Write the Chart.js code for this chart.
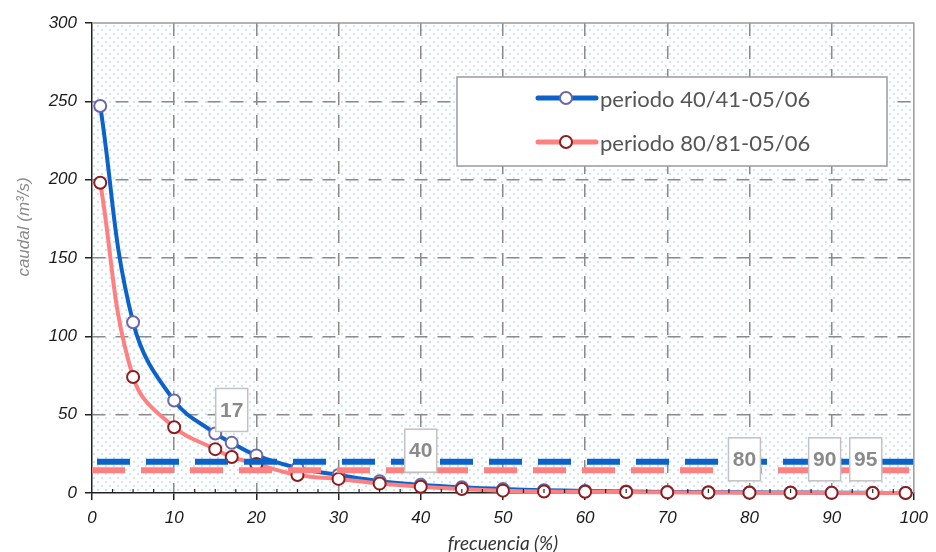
<!DOCTYPE html>
<html>
<head>
<meta charset="utf-8">
<script src="https://cdn.jsdelivr.net/npm/chart.js@4.4.1/dist/chart.umd.min.js"></script>
<style>
  html, body { margin: 0; padding: 0; background: #fff; }
  #wrap { width: 936px; height: 552px; }
</style>
</head>
<body>
<div id="wrap"><canvas id="chart" width="936" height="552"></canvas></div>
<script>
// flow duration curves: frequency (%) vs flow (m3/s)
const freq = [1, 5, 10, 15, 17, 20, 25, 30, 35, 40, 45, 50, 55, 60, 65, 70, 75, 80, 85, 90, 95, 99];
const flow4041 = [247, 109, 59, 38, 32, 24, 16, 11.5, 7.5, 5.2, 3.6, 2.5, 1.8, 1.3, 1.0, 0.7, 0.5, 0.4, 0.3, 0.2, 0.1, 0.05];
const flow8081 = [198, 74, 42, 28, 23, 18.5, 11.5, 9, 6, 4, 2.5, 1.5, 1, 0.8, 0.6, 0.4, 0.3, 0.2, 0.15, 0.1, 0.05, 0];
const seriesNames = ["periodo 40/41-05/06", "periodo 80/81-05/06"];

// reference flow level of each period (dashed lines)
const refLevel = [20, 14.5];

// frequencies flagged with a boxed label, and the flow height of each box
const markedFreq = [17, 40, 80, 90, 95];
const markedLevel = [53, 27, 21.5, 21.5, 21.5];

const BLUE = "#0b63c9";
const BLUE_PT = "#6b68a8";
const RED = "#ff8080";
const RED_PT = "#8c1d1d";

function toPoints(xs, ys) {
  return xs.map((x, i) => ({ x: x, y: ys[i] }));
}

function dotPattern(ctx) {
  const tile = document.createElement("canvas");
  tile.width = 8;
  tile.height = 8;
  const t = tile.getContext("2d");
  t.fillStyle = "#ffffff";
  t.fillRect(0, 0, 8, 8);
  t.fillStyle = "rgba(150,196,242,0.45)";
  t.fillRect(1, 1, 2, 2);
  t.fillRect(5, 5, 2, 2);
  return ctx.createPattern(tile, "repeat");
}

const plotDecor = {
  id: "plotDecor",
  beforeDraw(chart) {
    const { ctx, chartArea: a } = chart;
    ctx.save();
    ctx.fillStyle = dotPattern(ctx);
    ctx.fillRect(a.left, a.top, a.right - a.left, a.bottom - a.top);
    ctx.restore();
  },
  afterDatasetsDraw(chart) {
    const { ctx, chartArea: a } = chart;
    const xs = chart.scales.x;
    const ys = chart.scales.y;
    ctx.save();

    // frame on top and right
    ctx.strokeStyle = "#9a9a9a";
    ctx.lineWidth = 1.5;
    ctx.beginPath();
    ctx.moveTo(a.left, a.top);
    ctx.lineTo(a.right, a.top);
    ctx.lineTo(a.right, a.bottom);
    ctx.stroke();

    // minor ticks on the x axis every 2.5
    ctx.strokeStyle = "#222";
    ctx.lineWidth = 1.2;
    ctx.beginPath();
    for (let v = 2.5; v < 100; v += 2.5) {
      if (v % 10 === 0) continue;
      const px = xs.getPixelForValue(v);
      ctx.moveTo(px, a.bottom);
      ctx.lineTo(px, a.bottom - 4);
    }
    ctx.stroke();

    // boxed frequency labels
    const nudge = [0, 0, -5, -7, -7];
    ctx.font = "bold 21px 'Liberation Sans', Arial, sans-serif";
    ctx.textAlign = "center";
    ctx.textBaseline = "middle";
    markedFreq.forEach((f, i) => {
      const cx = xs.getPixelForValue(f) + nudge[i];
      const cy = ys.getPixelForValue(markedLevel[i]);
      const w = 32, h = 43;
      ctx.fillStyle = "#ffffff";
      ctx.fillRect(cx - w / 2, cy - h / 2, w, h);
      ctx.strokeStyle = "#c2c2c2";
      ctx.lineWidth = 1.5;
      ctx.strokeRect(cx - w / 2, cy - h / 2, w, h);
      ctx.fillStyle = "#8a8a8a";
      ctx.fillText(String(f), cx, cy + 1);
    });

    // legend box
    const lx = 457, ly = 77, lw = 430, lh = 89;
    ctx.fillStyle = "#ffffff";
    ctx.fillRect(lx, ly, lw, lh);
    ctx.strokeStyle = "#9a9a9a";
    ctx.lineWidth = 1.5;
    ctx.strokeRect(lx, ly, lw, lh);
    const rows = [
      { name: seriesNames[0], line: BLUE, pt: BLUE_PT, y: 98 },
      { name: seriesNames[1], line: RED, pt: RED_PT, y: 142 },
    ];
    ctx.font = "22px Lato, 'Noto Sans', sans-serif";
    ctx.textAlign = "left";
    ctx.textBaseline = "middle";
    rows.forEach((r) => {
      ctx.strokeStyle = r.line;
      ctx.lineWidth = 5;
      ctx.lineCap = "round";
      ctx.beginPath();
      ctx.moveTo(538, r.y);
      ctx.lineTo(596, r.y);
      ctx.stroke();
      ctx.lineCap = "butt";
      ctx.beginPath();
      ctx.arc(566, r.y, 6, 0, Math.PI * 2);
      ctx.fillStyle = "#ffffff";
      ctx.fill();
      ctx.strokeStyle = r.pt;
      ctx.lineWidth = 2;
      ctx.stroke();
      ctx.fillStyle = "#555555";
      ctx.fillText(r.name, 600, r.y + 2);
    });

    // axis titles
    ctx.fillStyle = "#333";
    ctx.textAlign = "center";
    ctx.textBaseline = "alphabetic";
    ctx.font = "italic 19px Lato, 'Noto Sans', sans-serif";
    ctx.fillText("frecuencia (%)", (a.left + a.right) / 2, 550);

    ctx.translate(24, 227);
    ctx.rotate(-Math.PI / 2);
    ctx.fillStyle = "#8a8a8a";
    ctx.font = "italic 17px 'Liberation Sans', Arial, sans-serif";
    ctx.textBaseline = "middle";
    ctx.fillText("caudal (m³/s)", 0, 0);
    ctx.restore();
  },
};

const tickFont = { family: "'Liberation Sans', Arial, sans-serif", size: 17, style: "italic" };

new Chart(document.getElementById("chart"), {
  type: "line",
  data: {
    datasets: [
      {
        label: "nivel 40/41",
        data: [{ x: 0, y: refLevel[0] }, { x: 100, y: refLevel[0] }],
        borderColor: BLUE,
        borderWidth: 6,
        borderDash: [33, 16],
        borderDashOffset: 44,
        pointRadius: 0,
        order: 0,
      },
      {
        label: "nivel 80/81",
        data: [{ x: 0, y: refLevel[1] }, { x: 100, y: refLevel[1] }],
        borderColor: RED,
        borderWidth: 6,
        borderDash: [33, 16],
        pointRadius: 0,
        order: 0,
      },
      {
        label: seriesNames[1],
        data: toPoints(freq, flow8081),
        borderColor: RED,
        borderWidth: 4,
        tension: 0.4,
        pointRadius: 6,
        pointBackgroundColor: "#ffffff",
        pointBorderColor: RED_PT,
        pointBorderWidth: 2,
        order: 1,
      },
      {
        label: seriesNames[0],
        data: toPoints(freq, flow4041),
        borderColor: BLUE,
        borderWidth: 4,
        tension: 0.4,
        pointRadius: 6,
        pointBackgroundColor: "#ffffff",
        pointBorderColor: BLUE_PT,
        pointBorderWidth: 2,
        order: 2,
      },
    ],
  },
  options: {
    responsive: false,
    animation: false,
    clip: false,
    layout: { padding: { top: 23, right: 16, left: 0, bottom: 0 } },
    plugins: { legend: { display: false }, tooltip: { enabled: false } },
    scales: {
      x: {
        type: "linear",
        min: 0,
        max: 100,
        ticks: { stepSize: 10, font: tickFont, color: "#1a1a1a", padding: 8, maxRotation: 0 },
        grid: {
          color: (c) => (c.tick && (c.tick.value === 0 || c.tick.value === 100) ? "rgba(0,0,0,0)" : "#8a8a8a"),
          lineWidth: 1.5,
          tickColor: "#222",
          tickLength: 7,
        },
        border: { color: "#222", width: 1.5, dash: [13, 10] },
        afterFit(scale) { scale.height = 59; },
      },
      y: {
        min: 0,
        max: 300,
        ticks: { stepSize: 50, font: tickFont, color: "#1a1a1a", padding: 8 },
        grid: {
          color: (c) => (c.tick && (c.tick.value === 0 || c.tick.value === 300) ? "rgba(0,0,0,0)" : "#8a8a8a"),
          lineWidth: 1.5,
          tickColor: "#222",
          tickLength: 7,
        },
        border: { color: "#222", width: 1.5, dash: [13, 10] },
        afterFit(scale) { scale.width = 92; },
      },
    },
  },
  plugins: [plotDecor],
});
</script>
</body>
</html>
